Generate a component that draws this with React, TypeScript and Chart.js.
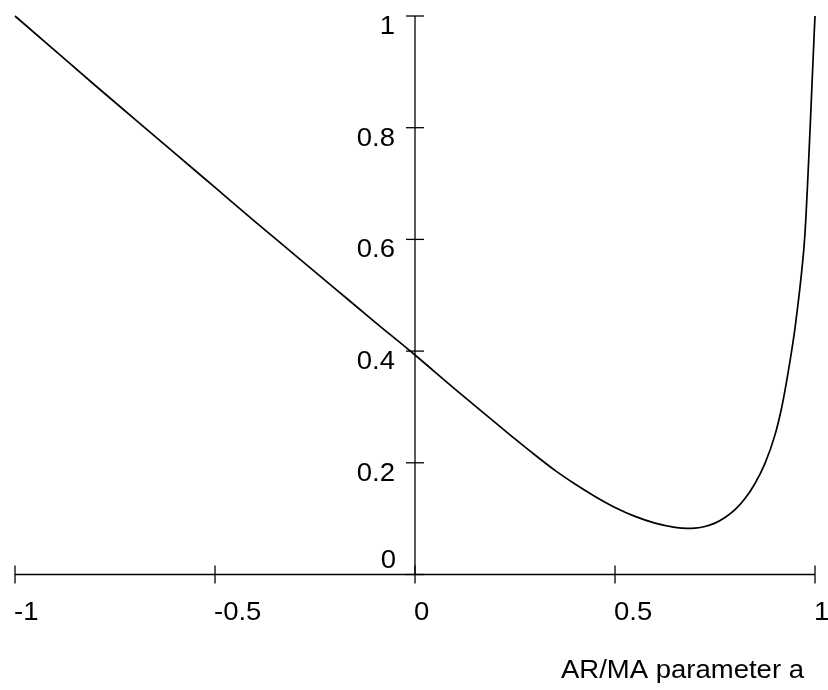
import React, { useEffect, useRef } from "react";
import { Chart, registerables } from "chart.js";

Chart.register(...registerables);

const xValues = [-1, -0.9, -0.8, -0.7, -0.6, -0.5, -0.4, -0.3, -0.2, -0.1, 0, 0.1, 0.2, 0.25, 0.3, 0.35, 0.4, 0.45, 0.5, 0.55, 0.6, 0.65, 0.68, 0.7, 0.725, 0.75, 0.775, 0.8, 0.825, 0.85, 0.875, 0.9, 0.917, 0.93, 0.942, 0.95, 0.958, 0.967, 0.975, 1.0];
const yValues = [1.0, 0.938, 0.876, 0.815, 0.754, 0.693, 0.632, 0.572, 0.512, 0.452, 0.393, 0.332, 0.2725, 0.2428, 0.214, 0.1865, 0.162, 0.1397, 0.12, 0.104, 0.092, 0.0845, 0.0825, 0.083, 0.086, 0.092, 0.102, 0.116, 0.136, 0.163, 0.199, 0.25, 0.3, 0.35, 0.402, 0.441, 0.487, 0.545, 0.611, 1.0];

const xTicks = [-1, -0.5, 0, 0.5, 1];
const xTickLabels = ["-1", "-0.5", "0", "0.5", "1"];
const yTicks = [0, 0.2, 0.4, 0.6, 0.8, 1];
const yTickLabels = ["0", "0.2", "0.4", "0.6", "0.8", "1"];
const xAxisTitle = "AR/MA parameter a";

const FONT = '25px "Liberation Sans", Arial, sans-serif';
const SX = 1.1;

function drawText(ctx: CanvasRenderingContext2D, text: string, x: number, y: number, align: CanvasTextAlign) {
  ctx.save();
  ctx.translate(x, y);
  ctx.scale(SX, 1);
  ctx.textAlign = align;
  ctx.textBaseline = "alphabetic";
  ctx.fillText(text, 0, 0);
  ctx.restore();
}

const axesPlugin = {
  id: "crossAxes",
  afterDraw(chart: any) {
    const ctx: CanvasRenderingContext2D = chart.ctx;
    const xs = chart.scales.x;
    const ys = chart.scales.y;
    const x0 = xs.getPixelForValue(0);
    const y0 = ys.getPixelForValue(0);
    ctx.save();
    ctx.strokeStyle = "#000";
    ctx.fillStyle = "#000";
    ctx.lineWidth = 1.3;
    ctx.beginPath();
    ctx.moveTo(xs.getPixelForValue(-1), y0);
    ctx.lineTo(xs.getPixelForValue(1), y0);
    ctx.stroke();
    ctx.beginPath();
    ctx.moveTo(x0, ys.getPixelForValue(0));
    ctx.lineTo(x0, ys.getPixelForValue(1));
    ctx.stroke();
    ctx.font = FONT;
    xTicks.forEach((v, i) => {
      const px = xs.getPixelForValue(v);
      ctx.beginPath();
      ctx.moveTo(px, y0 - 9);
      ctx.lineTo(px, y0 + 9);
      ctx.stroke();
      drawText(ctx, xTickLabels[i], px - 1, y0 + 45, "left");
    });
    yTicks.forEach((v, i) => {
      const py = ys.getPixelForValue(v);
      ctx.beginPath();
      ctx.moveTo(x0 - 9, py);
      ctx.lineTo(x0 + 9, py);
      ctx.stroke();
      if (v === 0) {
        drawText(ctx, yTickLabels[i], x0 - 19, py - 6.5, "right");
      } else {
        drawText(ctx, yTickLabels[i], x0 - 20, py + 17.8, "right");
      }
    });
    drawText(ctx, xAxisTitle, xs.getPixelForValue(0.365), y0 + 103.5, "left");
    ctx.restore();
  },
};

export default function App() {
  const ref = useRef<HTMLCanvasElement | null>(null);
  useEffect(() => {
    if (!ref.current) return;
    const data = xValues.map((x, i) => ({ x, y: yValues[i] }));
    const chart = new Chart(ref.current, {
      type: "line",
      data: {
        datasets: [
          {
            data,
            borderColor: "#000",
            borderWidth: 1.7,
            pointRadius: 0,
            fill: false,
            cubicInterpolationMode: "monotone",
            clip: false as any,
          },
        ],
      },
      options: {
        animation: false,
        responsive: false,
        maintainAspectRatio: false,
        layout: { padding: { left: 15, right: 13, top: 16, bottom: 115.5 } },
        plugins: { legend: { display: false }, tooltip: { enabled: false } },
        scales: {
          x: { type: "linear", min: -1, max: 1, display: false },
          y: { type: "linear", min: 0, max: 1, display: false },
        },
      },
      plugins: [axesPlugin],
    });
    return () => chart.destroy();
  }, []);
  return (
    <div style={{ position: "fixed", left: 0, top: 0, width: 828, height: 690, background: "#fff" }}>
      <canvas ref={ref} width={828} height={690} style={{ width: 828, height: 690, display: "block" }} />
    </div>
  );
}
